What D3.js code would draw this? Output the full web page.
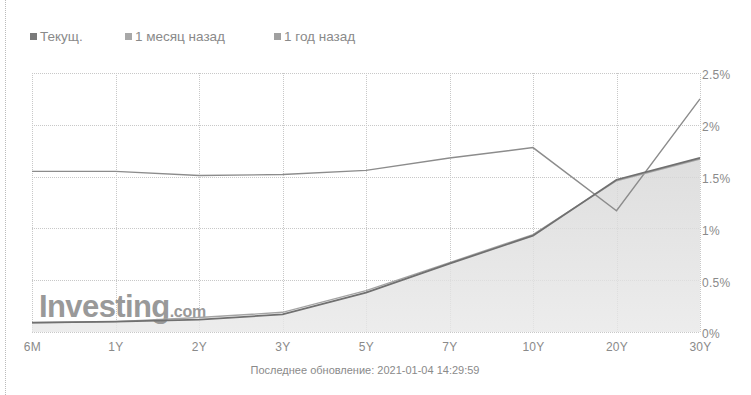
<html>
  <head>
    <meta charset="utf-8">
    <title>Кривая доходности</title>
  </head>
  <style>
    body { margin: 0; background: #fff; }
    .grid line { stroke: #c8c8c8; stroke-dasharray: 1,1; shape-rendering: crispEdges; }
    .axis text { font: 12px "Liberation Sans", Arial, sans-serif; fill: #8a8a8a; letter-spacing: 0.3px; }
    .axis path, .axis line { display: none; }
    .legend text { font: 13.5px "Liberation Sans", Arial, sans-serif; fill: #8a8a8a; }
  </style>
  <body>
    <div id="chart"></div>
    <script src="https://cdn.jsdelivr.net/npm/d3@7"></script>
    <script>

      var categories  = ["6M","1Y","2Y","3Y","5Y","7Y","10Y","20Y","30Y"];
      var current     = [0.09, 0.10, 0.12, 0.17, 0.38, 0.66, 0.93, 1.47, 1.68];
      var monthAgo    = [0.09, 0.10, 0.14, 0.19, 0.40, 0.67, 0.94, 1.46, 1.67];
      var yearAgo     = [1.55, 1.55, 1.51, 1.52, 1.56, 1.68, 1.78, 1.17, 2.25];
      var yTicks      = [0, 0.5, 1, 1.5, 2, 2.5];
      var seriesNames = ["Текущ.", "1 месяц назад", "1 год назад"];
      var updated     = "Последнее обновление: 2021-01-04 14:29:59";

      var W = 751, H = 395;
      var margin = { top: 73, right: 51, bottom: 63, left: 32 },
          width  = W - margin.left - margin.right,
          height = H - margin.top - margin.bottom;

      var x = d3.scalePoint().domain(categories).range([0, width]);
      var y = d3.scaleLinear().domain([0, 2.5]).range([height, 0]);

      var svg = d3.select("#chart").append("svg")
                  .attr("width", W).attr("height", H);

      // dotted frame edge on the left of the scan
      svg.append("line")
         .attr("x1", 5.5).attr("x2", 5.5).attr("y1", 0).attr("y2", H)
         .attr("stroke", "#bbb").attr("stroke-dasharray", "1,1");

      var g = svg.append("g")
                 .attr("transform", "translate(" + margin.left + "," + margin.top + ")");

      var grid = g.append("g").attr("class", "grid");
      grid.selectAll(".h").data(yTicks).enter().append("line")
          .attr("class", "h")
          .attr("x1", 0).attr("x2", width)
          .attr("y1", function(d){ return Math.round(y(d)) + 0.5; })
          .attr("y2", function(d){ return Math.round(y(d)) + 0.5; });
      grid.selectAll(".v").data(categories).enter().append("line")
          .attr("class", "v")
          .attr("y1", 0).attr("y2", height)
          .attr("x1", function(d){ return Math.round(x(d)) + 0.5; })
          .attr("x2", function(d){ return Math.round(x(d)) + 0.5; });

      // area under current curve
      var defs = svg.append("defs");
      var grad = defs.append("linearGradient").attr("id", "areaGrad")
                     .attr("x1", 0).attr("y1", 0).attr("x2", 0).attr("y2", 1);
      grad.append("stop").attr("offset", "0%").attr("stop-color", "#d6d6d6");
      grad.append("stop").attr("offset", "100%").attr("stop-color", "#e8e8e8");

      var area = d3.area()
                   .x(function(d, i){ return x(categories[i]); })
                   .y0(height)
                   .y1(function(d){ return y(d); });
      g.append("path").datum(current)
       .attr("d", area)
       .attr("fill", "url(#areaGrad)")
       .attr("opacity", 0.8);

      // watermark
      var logo = g.append("text")
                  .attr("x", 7).attr("y", height - 15)
                  .style("font-family", "'Liberation Sans', Arial, sans-serif")
                  .style("fill", "#999");
      logo.append("tspan").text("Investing")
          .style("font-size", "31px").style("font-weight", "bold")
          .style("letter-spacing", "-0.6px");
      logo.append("tspan").text(".com")
          .style("font-size", "16px").style("font-weight", "bold")
          .style("letter-spacing", "-0.3px");

      var line = d3.line()
                   .x(function(d, i){ return x(categories[i]); })
                   .y(function(d){ return y(d); });

      var series = [
        { values: yearAgo,  color: "#8c8c8c", w: 1.4 },
        { values: monthAgo, color: "#a4a4a4", w: 1.4 },
        { values: current,  color: "#707070", w: 1.8 }
      ];
      g.selectAll(".series").data(series).enter().append("path")
       .attr("class", "series")
       .attr("d", function(d){ return line(d.values); })
       .attr("fill", "none")
       .attr("stroke", function(d){ return d.color; })
       .attr("stroke-width", function(d){ return d.w; });

      // axes
      g.append("g").attr("class", "axis")
       .attr("transform", "translate(0," + (height + 10) + ")")
       .call(d3.axisBottom(x).tickSize(0).tickPadding(0));

      g.append("g").attr("class", "axis")
       .attr("transform", "translate(" + (width + 2) + ",2)")
       .call(d3.axisRight(y).tickValues(yTicks).tickSize(0).tickPadding(0)
               .tickFormat(function(d){ return d3.format("~g")(d) + "%"; }));

      // legend
      var legendX = [30, 125, 274];
      var legendC = ["#7a7a7a", "#a8a8a8", "#a0a0a0"];
      var lg = svg.append("g").attr("class", "legend");
      var items = lg.selectAll("g").data(seriesNames).enter().append("g")
                    .attr("transform", function(d, i){ return "translate(" + legendX[i] + ",33)"; });
      items.append("rect").attr("width", 7).attr("height", 7)
           .attr("fill", function(d, i){ return legendC[i]; });
      items.append("text").attr("x", 10).attr("y", 8).text(function(d){ return d; });

      svg.append("text")
         .attr("x", 365).attr("y", 374)
         .attr("text-anchor", "middle")
         .style("font", "11px 'Liberation Sans', Arial, sans-serif")
         .style("fill", "#8a8a8a")
         .text(updated);

    </script>
  </body>
</html>
